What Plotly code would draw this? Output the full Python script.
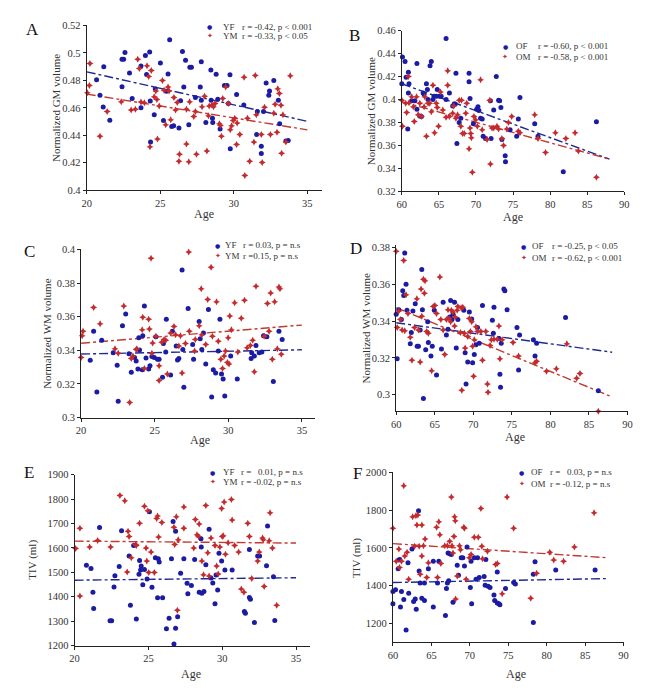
import plotly.graph_objects as go

# ---------------- DATA ----------------
# Panel A: Normalized GM volume, young
A_YF_age = [20.67, 21.16, 20.9, 21.12, 21.57, 22.4, 22.4, 22.51, 22.6, 22.91, 23.09, 23.69, 23.69, 23.99, 24.07, 24.28, 24.32, 24.34, 24.59, 24.66, 25.01, 25.22, 25.42, 25.53, 25.64, 25.78, 25.91, 26.27, 26.38, 26.51, 26.6, 26.72, 26.94, 27.01, 27.12, 27.39, 27.72, 27.79, 27.79, 28.1, 28.44, 28.46, 28.55, 28.57, 28.8, 28.91, 29.07, 29.36, 29.54, 29.74, 29.76, 29.63, 30.19, 30.68, 31.55, 31.6, 31.87, 31.87, 32.02, 32.2, 32.38, 32.43, 32.72, 33.03, 33.12, 33.54, 33.7]
A_YF_val = [0.4804, 0.4899, 0.4692, 0.4606, 0.451, 0.4754, 0.4954, 0.4954, 0.5002, 0.4854, 0.4668, 0.4904, 0.4601, 0.498, 0.4842, 0.5007, 0.4649, 0.4351, 0.4549, 0.4739, 0.4926, 0.4508, 0.472, 0.4847, 0.5095, 0.4465, 0.447, 0.4453, 0.4651, 0.5009, 0.4751, 0.4947, 0.4477, 0.4895, 0.4895, 0.4675, 0.4751, 0.4935, 0.4656, 0.4494, 0.4876, 0.4656, 0.4525, 0.4494, 0.4845, 0.4663, 0.4446, 0.4763, 0.4763, 0.484, 0.4303, 0.4632, 0.4697, 0.462, 0.4406, 0.4573, 0.432, 0.4267, 0.4573, 0.478, 0.4692, 0.4723, 0.4799, 0.4656, 0.4484, 0.4358, 0.4363]
A_YM_age = [20.04, 20.18, 20.22, 20.9, 21.39, 22.35, 23.02, 23.31, 23.47, 23.58, 23.69, 23.92, 24.1, 24.21, 24.3, 24.39, 24.59, 24.7, 24.81, 24.77, 24.93, 25.15, 25.26, 25.37, 25.53, 25.6, 25.71, 25.93, 26.04, 26.16, 26.27, 26.31, 26.78, 26.78, 26.94, 27.0, 27.28, 27.39, 27.46, 27.84, 28.01, 28.17, 28.28, 28.33, 28.51, 28.62, 28.73, 29.02, 29.09, 29.16, 29.25, 29.45, 29.63, 29.76, 29.85, 29.96, 30.07, 30.19, 30.23, 30.41, 30.7, 30.75, 30.93, 31.08, 31.37, 31.46, 31.53, 31.87, 31.93, 32.09, 32.49, 32.72, 32.81, 32.94, 32.99, 33.1, 33.21, 33.25, 33.34, 33.54, 33.84]
A_YM_val = [0.4709, 0.4763, 0.4923, 0.4394, 0.4573, 0.4644, 0.4584, 0.4589, 0.4954, 0.4887, 0.4642, 0.4637, 0.4907, 0.4828, 0.4317, 0.4871, 0.468, 0.4723, 0.4374, 0.4661, 0.4613, 0.4799, 0.4728, 0.4477, 0.4751, 0.4723, 0.4513, 0.4675, 0.4584, 0.4639, 0.4212, 0.4262, 0.4336, 0.4589, 0.4208, 0.4644, 0.4537, 0.4573, 0.4262, 0.4608, 0.4685, 0.4286, 0.4542, 0.4613, 0.462, 0.4608, 0.4632, 0.4484, 0.4472, 0.4394, 0.4668, 0.4751, 0.4632, 0.4441, 0.447, 0.4508, 0.4525, 0.4334, 0.4489, 0.4406, 0.4823, 0.4107, 0.4525, 0.4212, 0.4351, 0.4835, 0.4549, 0.4406, 0.4203, 0.4604, 0.4406, 0.4561, 0.4627, 0.4422, 0.4739, 0.4704, 0.4618, 0.427, 0.4549, 0.4351, 0.4833]
A_fit_age = [20, 35]
A_YF_fit = [0.4862, 0.4502]
A_YM_fit = [0.4700, 0.4440]

# Panel B: Normalized GM volume, old
B_OF_age = [60.0, 60.09, 60.44, 60.58, 60.8, 60.89, 60.89, 60.97, 61.33, 61.77, 62.04, 62.04, 62.43, 62.65, 62.88, 63.01, 63.32, 63.45, 63.54, 63.81, 63.98, 64.2, 64.34, 64.65, 64.78, 65.09, 65.31, 65.97, 65.97, 66.42, 66.86, 67.08, 67.21, 67.3, 67.43, 67.74, 67.96, 69.07, 69.07, 69.2, 69.65, 70.09, 70.27, 70.4, 70.62, 70.84, 70.97, 71.28, 71.95, 72.04, 72.39, 72.74, 73.05, 73.19, 73.36, 73.5, 73.94, 73.98, 74.6, 75.49, 75.71, 75.93, 77.92, 78.36, 81.77, 86.24]
B_OF_val = [0.4137, 0.4371, 0.4331, 0.4194, 0.3743, 0.4237, 0.4057, 0.4137, 0.3989, 0.3989, 0.4314, 0.3914, 0.3857, 0.3851, 0.4057, 0.4046, 0.4137, 0.4086, 0.40, 0.4294, 0.4331, 0.40, 0.4029, 0.4029, 0.4086, 0.4029, 0.4029, 0.4531, 0.40, 0.4057, 0.3943, 0.396, 0.396, 0.4229, 0.3617, 0.38, 0.3837, 0.4229, 0.4154, 0.4009, 0.3789, 0.3914, 0.3937, 0.3903, 0.3837, 0.3829, 0.368, 0.366, 0.3989, 0.366, 0.3909, 0.42, 0.3994, 0.3989, 0.3931, 0.3651, 0.3509, 0.3457, 0.3737, 0.368, 0.3829, 0.4017, 0.3789, 0.368, 0.3371, 0.3806]
B_OM_age = [60.0, 60.09, 60.53, 60.66, 60.89, 60.97, 61.33, 61.55, 61.68, 61.99, 62.21, 62.43, 62.65, 63.01, 63.1, 63.32, 63.54, 63.76, 63.98, 64.2, 64.42, 64.65, 64.78, 64.96, 65.22, 65.53, 65.97, 66.19, 66.19, 66.42, 66.86, 66.99, 67.3, 67.52, 67.74, 67.96, 68.05, 68.19, 68.41, 68.63, 68.76, 69.07, 69.2, 69.29, 69.38, 69.51, 69.73, 69.96, 70.18, 70.62, 70.84, 71.5, 71.86, 71.95, 72.17, 72.39, 72.83, 73.05, 73.5, 73.72, 74.16, 74.38, 74.82, 75.71, 75.93, 77.92, 78.36, 79.38, 80.71, 82.12, 83.36, 83.81, 86.24]
B_OM_val = [0.3994, 0.3766, 0.3966, 0.3886, 0.42, 0.3971, 0.4023, 0.3937, 0.3809, 0.4023, 0.3866, 0.3966, 0.3851, 0.3937, 0.4023, 0.368, 0.3966, 0.3966, 0.3894, 0.4123, 0.3709, 0.3966, 0.3931, 0.3766, 0.4066, 0.3909, 0.3846, 0.4251, 0.4123, 0.3851, 0.388, 0.3943, 0.3837, 0.3866, 0.3994, 0.3766, 0.3994, 0.3703, 0.3703, 0.388, 0.3966, 0.3571, 0.3751, 0.3703, 0.3666, 0.3366, 0.3851, 0.3823, 0.3766, 0.4171, 0.3737, 0.3651, 0.3994, 0.3437, 0.3751, 0.3751, 0.3766, 0.3743, 0.366, 0.36, 0.3743, 0.38, 0.3851, 0.3723, 0.3709, 0.3866, 0.366, 0.3537, 0.3709, 0.366, 0.3709, 0.3551, 0.3323]
B_fit_age = [60, 88]
B_OF_fit = [0.4137, 0.3480]
B_OM_fit = [0.3980, 0.3480]

# Panel C: Normalized WM volume, young
C_YF_age = [20.62, 20.85, 21.07, 21.4, 22.18, 22.45, 22.52, 22.81, 23.03, 23.25, 23.41, 23.63, 23.74, 23.86, 23.97, 23.92, 24.15, 24.19, 24.3, 24.41, 24.59, 24.68, 24.81, 24.97, 25.08, 25.19, 25.3, 25.53, 25.59, 25.75, 25.79, 26.08, 26.2, 26.46, 26.55, 26.64, 26.86, 26.91, 26.98, 27.27, 27.58, 27.64, 28.02, 28.09, 28.2, 28.31, 28.47, 28.65, 28.87, 28.98, 29.14, 29.32, 29.43, 29.54, 29.65, 29.76, 30.16, 30.61, 31.55, 31.59, 31.77, 31.88, 32.1, 32.28, 32.39, 32.62, 33.06, 33.44, 33.66]
C_YF_val = [0.3341, 0.3513, 0.3152, 0.346, 0.3386, 0.3312, 0.3097, 0.3546, 0.3616, 0.338, 0.3269, 0.3357, 0.3337, 0.3289, 0.3402, 0.3474, 0.3285, 0.3487, 0.3663, 0.3355, 0.3289, 0.3308, 0.3363, 0.3357, 0.348, 0.3347, 0.3347, 0.324, 0.3441, 0.339, 0.3585, 0.3253, 0.3513, 0.3425, 0.3343, 0.3351, 0.3877, 0.3405, 0.3181, 0.3649, 0.3435, 0.3347, 0.3571, 0.3468, 0.3405, 0.3503, 0.3318, 0.3643, 0.3123, 0.3285, 0.3265, 0.3396, 0.3585, 0.3259, 0.323, 0.3129, 0.3366, 0.323, 0.3351, 0.3386, 0.3366, 0.3429, 0.3386, 0.339, 0.3487, 0.348, 0.3214, 0.3513, 0.3464]
C_YM_age = [20.0, 20.07, 20.13, 20.85, 21.29, 22.3, 22.52, 22.9, 23.3, 23.41, 23.52, 23.74, 23.79, 24.15, 24.19, 24.3, 24.59, 24.64, 24.75, 24.81, 24.86, 25.08, 25.3, 25.3, 25.48, 25.64, 25.75, 25.86, 26.08, 26.31, 26.42, 26.64, 26.75, 26.86, 27.09, 27.31, 27.35, 27.71, 27.76, 28.02, 28.16, 28.2, 28.47, 28.6, 28.83, 28.92, 29.2, 29.32, 29.49, 29.61, 29.72, 29.81, 29.94, 29.99, 30.05, 30.1, 30.21, 30.43, 30.65, 30.88, 31.1, 31.28, 31.5, 31.66, 31.77, 31.88, 32.44, 32.66, 32.77, 32.88, 32.99, 33.15, 33.33, 33.44, 33.51, 33.6]
C_YM_val = [0.3357, 0.3487, 0.3513, 0.3655, 0.3558, 0.3409, 0.3382, 0.3663, 0.309, 0.3351, 0.3366, 0.3405, 0.3409, 0.3522, 0.3596, 0.3292, 0.3585, 0.3526, 0.3947, 0.3382, 0.3444, 0.3483, 0.322, 0.3308, 0.3448, 0.3464, 0.346, 0.3259, 0.3503, 0.3542, 0.3493, 0.3425, 0.3487, 0.3265, 0.3441, 0.3984, 0.3513, 0.3396, 0.3464, 0.3546, 0.3766, 0.3493, 0.3435, 0.3702, 0.3893, 0.3483, 0.3688, 0.3454, 0.3347, 0.3292, 0.3366, 0.3396, 0.3327, 0.3474, 0.3318, 0.3604, 0.3522, 0.3682, 0.339, 0.3591, 0.3698, 0.3415, 0.3429, 0.346, 0.3273, 0.378, 0.3483, 0.3678, 0.3513, 0.3741, 0.3347, 0.3688, 0.3409, 0.3776, 0.3766, 0.3376]
C_fit_age = [20, 35]
C_YF_fit = [0.3378, 0.3403]
C_YM_fit = [0.3442, 0.3550]

# Panel D: Normalized WM volume, old
D_OF_age = [60.0, 60.13, 60.34, 60.68, 60.85, 60.98, 61.11, 61.28, 61.4, 61.83, 61.96, 62.17, 62.47, 62.72, 62.89, 63.11, 63.32, 63.4, 63.53, 63.83, 64.09, 64.17, 64.51, 64.68, 64.94, 65.23, 65.87, 66.09, 66.51, 66.72, 66.94, 67.06, 67.23, 67.36, 67.57, 67.79, 68.0, 68.77, 68.94, 69.06, 69.28, 69.49, 69.79, 69.91, 70.13, 70.34, 70.55, 70.77, 71.19, 72.47, 72.6, 72.68, 73.32, 73.45, 73.53, 73.62, 73.96, 74.09, 74.38, 75.66, 75.87, 76.0, 77.79, 78.0, 78.21, 81.96, 86.21]
D_OF_val = [0.3437, 0.3196, 0.3462, 0.3409, 0.3565, 0.3539, 0.377, 0.3601, 0.3459, 0.3277, 0.3338, 0.3455, 0.3494, 0.3263, 0.3263, 0.3352, 0.3681, 0.3462, 0.2979, 0.3245, 0.3396, 0.3284, 0.321, 0.3263, 0.3459, 0.3107, 0.3249, 0.3503, 0.3325, 0.3356, 0.3423, 0.3512, 0.3409, 0.3437, 0.3503, 0.3254, 0.3409, 0.3459, 0.3228, 0.3059, 0.3178, 0.345, 0.3411, 0.3174, 0.3219, 0.3272, 0.3366, 0.328, 0.3485, 0.3405, 0.3334, 0.3476, 0.3306, 0.3112, 0.3041, 0.328, 0.3574, 0.3565, 0.3462, 0.3366, 0.3135, 0.3325, 0.3299, 0.321, 0.328, 0.342, 0.3022]
D_OM_age = [60.0, 60.13, 60.34, 60.55, 60.77, 60.98, 61.11, 61.28, 61.53, 61.83, 62.04, 62.38, 62.68, 62.89, 63.11, 63.23, 63.32, 63.53, 63.66, 63.74, 63.96, 64.17, 64.6, 64.81, 65.02, 65.23, 65.66, 65.79, 66.09, 66.3, 66.51, 66.72, 66.85, 67.06, 67.15, 67.36, 67.57, 67.66, 67.91, 68.0, 68.34, 68.43, 68.51, 68.64, 68.85, 68.94, 69.28, 69.49, 69.62, 69.79, 69.91, 70.04, 70.13, 70.34, 70.55, 70.98, 71.19, 71.62, 71.83, 71.91, 72.17, 72.34, 72.68, 73.11, 73.32, 73.45, 73.74, 75.15, 75.87, 78.0, 78.21, 79.49, 80.77, 82.13, 83.4, 83.83, 86.21]
D_OM_val = [0.378, 0.3366, 0.3455, 0.3409, 0.3352, 0.3729, 0.3348, 0.3544, 0.3441, 0.3313, 0.3188, 0.3366, 0.3521, 0.3352, 0.3178, 0.3574, 0.3427, 0.3628, 0.3551, 0.3619, 0.3343, 0.3334, 0.313, 0.348, 0.3485, 0.3441, 0.364, 0.3409, 0.3352, 0.3219, 0.3409, 0.3462, 0.3414, 0.3396, 0.3459, 0.345, 0.3373, 0.3423, 0.3459, 0.348, 0.3338, 0.3473, 0.3024, 0.3476, 0.3334, 0.3254, 0.3316, 0.3414, 0.3343, 0.3396, 0.3263, 0.31, 0.3299, 0.337, 0.3343, 0.3343, 0.3188, 0.3343, 0.3059, 0.3013, 0.3267, 0.3299, 0.3302, 0.3302, 0.3373, 0.3196, 0.3299, 0.3284, 0.321, 0.3174, 0.3182, 0.3128, 0.3141, 0.3277, 0.3089, 0.3116, 0.2911]
D_fit_age = [60, 88]
D_OF_fit = [0.3391, 0.3231]
D_OM_fit = [0.3473, 0.2988]

# Panel E: TIV, young
E_YF_age = [20.8, 21.11, 21.24, 21.29, 21.69, 22.4, 22.51, 22.67, 22.73, 23.02, 23.18, 23.69, 23.78, 24.0, 24.18, 24.36, 24.4, 24.47, 24.51, 24.62, 24.73, 24.91, 25.07, 25.24, 25.47, 25.62, 25.67, 25.73, 25.96, 26.22, 26.4, 26.56, 26.67, 26.73, 26.84, 26.84, 26.98, 27.18, 27.4, 27.62, 27.67, 27.91, 28.13, 28.44, 28.56, 28.58, 28.62, 28.76, 28.89, 29.11, 29.24, 29.36, 29.51, 29.58, 29.69, 29.78, 29.96, 30.18, 30.67, 31.5, 31.57, 31.84, 31.91, 31.84, 32.18, 32.4, 32.53, 33.0, 33.07, 33.47, 33.56]
E_YF_val = [1529, 1516, 1419, 1352, 1684, 1302, 1302, 1440, 1486, 1524, 1670, 1567, 1365, 1610, 1309, 1492, 1549, 1510, 1526, 1449, 1512, 1473, 1748, 1439, 1560, 1396, 1556, 1543, 1396, 1269, 1312, 1556, 1708, 1207, 1668, 1271, 1318, 1496, 1556, 1455, 1412, 1446, 1553, 1419, 1638, 1604, 1415, 1422, 1531, 1677, 1477, 1457, 1372, 1489, 1428, 1578, 1547, 1510, 1510, 1340, 1333, 1397, 1390, 1594, 1295, 1567, 1567, 1527, 1690, 1482, 1303]
E_YM_age = [20.07, 20.36, 20.36, 21.02, 21.56, 22.44, 23.07, 23.4, 23.56, 23.62, 23.69, 23.84, 24.13, 24.18, 24.4, 24.73, 24.84, 24.89, 24.96, 25.02, 25.18, 25.4, 25.56, 25.62, 25.69, 25.91, 26.73, 26.78, 26.89, 26.96, 27.02, 27.4, 27.4, 28.07, 28.18, 28.29, 28.4, 28.44, 28.62, 28.73, 28.89, 29.02, 29.11, 29.24, 29.51, 29.62, 29.73, 29.84, 29.96, 30.0, 30.07, 30.13, 30.22, 30.4, 30.62, 30.67, 30.84, 31.11, 31.29, 31.47, 31.73, 31.84, 32.0, 32.4, 32.51, 32.73, 32.78, 32.84, 33.18, 33.24, 33.4, 33.69]
E_YM_val = [1598, 1681, 1403, 1604, 1631, 1604, 1815, 1793, 1502, 1668, 1647, 1560, 1614, 1610, 1701, 1771, 1600, 1547, 1752, 1500, 1583, 1500, 1721, 1731, 1645, 1704, 1685, 1614, 1728, 1345, 1634, 1768, 1681, 1600, 1717, 1654, 1647, 1698, 1547, 1490, 1774, 1580, 1485, 1641, 1610, 1526, 1493, 1604, 1762, 1647, 1650, 1788, 1574, 1621, 1798, 1715, 1610, 1583, 1432, 1419, 1701, 1647, 1475, 1547, 1583, 1641, 1634, 1442, 1630, 1744, 1600, 1365]
E_fit_age = [20, 35]
E_YF_fit = [1468, 1478]
E_YM_fit = [1628, 1620]

# Panel F: TIV, old
F_OF_age = [60.0, 60.0, 60.34, 60.68, 60.77, 60.9, 60.98, 61.11, 61.41, 61.71, 61.96, 62.05, 62.48, 62.69, 62.9, 63.03, 63.33, 63.41, 63.54, 63.76, 64.1, 64.1, 64.61, 65.25, 65.25, 65.8, 65.97, 66.83, 66.96, 67.08, 67.17, 67.25, 67.38, 67.59, 67.81, 68.36, 68.53, 68.88, 69.09, 69.3, 69.64, 70.07, 70.16, 70.24, 70.58, 70.8, 71.01, 71.22, 71.86, 71.99, 72.08, 72.38, 72.63, 73.14, 73.23, 73.57, 73.57, 73.78, 73.91, 74.64, 75.7, 75.92, 78.26, 78.26, 78.48, 81.17, 86.29]
F_OF_val = [1369, 1304, 1379, 1490, 1536, 1539, 1287, 1369, 1327, 1165, 1522, 1360, 1595, 1317, 1330, 1275, 1797, 1478, 1414, 1334, 1322, 1414, 1490, 1530, 1287, 1414, 1530, 1243, 1386, 1414, 1574, 1426, 1570, 1565, 1313, 1508, 1456, 1548, 1548, 1504, 1605, 1391, 1530, 1304, 1548, 1435, 1548, 1443, 1449, 1403, 1539, 1397, 1391, 1351, 1322, 1473, 1308, 1304, 1299, 1386, 1417, 1409, 1461, 1205, 1527, 1483, 1483]
F_OM_age = [60.0, 60.43, 60.77, 60.85, 61.11, 61.41, 61.54, 61.84, 62.05, 62.56, 62.82, 62.99, 63.12, 63.24, 63.41, 63.54, 63.76, 63.76, 63.97, 64.18, 64.4, 64.61, 65.68, 65.8, 65.97, 66.1, 66.23, 66.74, 67.08, 67.38, 67.6, 67.68, 67.81, 67.94, 68.02, 68.11, 68.15, 68.36, 68.66, 68.79, 69.22, 69.3, 69.52, 69.94, 70.16, 70.58, 71.1, 71.44, 71.56, 71.65, 72.29, 73.36, 73.57, 74.21, 74.85, 75.7, 77.92, 78.69, 80.4, 80.91, 82.19, 83.6, 86.16]
F_OM_val = [1704, 1530, 1595, 1496, 1530, 1930, 1557, 1577, 1435, 1765, 1609, 1770, 1722, 1774, 1609, 1461, 1557, 1722, 1612, 1647, 1443, 1522, 1710, 1443, 1739, 1670, 1518, 1612, 1612, 1635, 1870, 1612, 1574, 1661, 1765, 1744, 1330, 1452, 1612, 1591, 1710, 1704, 1435, 1548, 1565, 1657, 1657, 1809, 1609, 1543, 1583, 1513, 1518, 1357, 1870, 1704, 1334, 1466, 1577, 1536, 1530, 1605, 1786]
F_fit_age = [60, 88]
F_OF_fit = [1417, 1438]
F_OM_fit = [1623, 1548]

# tick values
ticks_young_x = [20, 25, 30, 35]
ticks_old_x = [60, 65, 70, 75, 80, 85, 90]
ticks_A_y = [0.4, 0.42, 0.44, 0.46, 0.48, 0.5, 0.52]
ticks_B_y = [0.32, 0.34, 0.36, 0.38, 0.4, 0.42, 0.44, 0.46]
ticks_C_y = [0.3, 0.32, 0.34, 0.36, 0.38, 0.4]
ticks_D_y = [0.3, 0.32, 0.34, 0.36, 0.38]
ticks_E_y = [1200, 1300, 1400, 1500, 1600, 1700, 1800, 1900]
ticks_F_y = [1200, 1400, 1600, 1800, 2000]

# legend labels
legend_labels = {
    "A": [("YF", "r = -0.42, p &lt; 0.001"), ("YM", "r = -0.33, p &lt; 0.05")],
    "B": [("OF", "r = -0.60, p &lt; 0.001"), ("OM", "r = -0.58, p &lt; 0.001")],
    "C": [("YF", "r = 0.03, p = n.s"), ("YM", "r =0.15, p = n.s")],
    "D": [("OF", "r = -0.25, p &lt; 0.05"), ("OM", "r = -0.62, p &lt; 0.001")],
    "E": [("YF", "r =\u00a0\u00a0 0.01, p = n.s"), ("YM", "r = -0.02, p = n.s")],
    "F": [("OF", "r =\u00a0\u00a0 0.03, p = n.s"), ("OM", "r = -0.12, p = n.s")],
}

# ---------------- STYLE / LAYOUT ----------------
W, H = 649, 691
FONT = "Liberation Serif, Times New Roman, serif"
BLUE = "#1b1ba3"
RED = "#c42b2e"
BLUE_LINE = "#1e2a8e"
RED_LINE = "#c23a30"

def fx(px):
    return px / W

def fy(py):
    return 1 - py / H

panels = {
    "A": dict(xd=(83, 322), yd=(20.7, 188.3), xr=[20, 36], yr=[0.4, 0.52], xt=ticks_young_x, yt=ticks_A_y,
              ytitle="Normalized GM volume", ytx=52, xtitle_xy=(202, 212), letter=(28, 25),
              leg=dict(mx=208, rows=(22, 32), lx=219, rx=239)),
    "B": dict(xd=(403, 629), yd=(26, 189.3), xr=[60, 90], yr=[0.32, 0.46], xt=ticks_old_x, yt=ticks_B_y,
              ytitle="Normalized GM volume", ytx=372, xtitle_xy=(516, 215), letter=(355, 31),
              leg=dict(mx=508, rows=(42, 53), lx=517, rx=539)),
    "C": dict(xd=(77.3, 315), yd=(248.3, 419.3), xr=[20, 35.9], yr=[0.3, 0.4], xt=ticks_young_x, yt=ticks_C_y,
              ytitle="Normalized WM volume", ytx=43, xtitle_xy=(198, 442), letter=(25, 250),
              leg=dict(mx=216, rows=(244, 255), lx=221, rx=240)),
    "D": dict(xd=(397.3, 632.3), yd=(244, 412.7), xr=[60, 90], yr=[0.2911, 0.3813], xt=ticks_old_x, yt=ticks_D_y,
              ytitle="Normalized WM volume", ytx=367, xtitle_xy=(518, 439), letter=(356, 247),
              leg=dict(mx=527, rows=(245, 257), lx=533, rx=554)),
    "E": dict(xd=(70.7, 310), yd=(477.3, 651), xr=[20, 35.96], yr=[1200, 1900], xt=ticks_young_x, yt=ticks_E_y,
              ytitle="TIV (ml)", ytx=28, xtitle_xy=(189, 680), letter=(24, 475),
              leg=dict(mx=211, rows=(475, 485), lx=219, rx=238)),
    "F": dict(xd=(394, 628.3), yd=(475, 647.7), xr=[60, 90], yr=[1100, 2000], xt=ticks_old_x, yt=ticks_F_y,
              ytitle="TIV (ml)", ytx=357, xtitle_xy=(519, 680), letter=(358, 476),
              leg=dict(mx=525, rows=(475, 487), lx=532, rx=551)),
}

series = {
    "A": [(A_YF_age, A_YF_val, A_fit_age, A_YF_fit), (A_YM_age, A_YM_val, A_fit_age, A_YM_fit)],
    "B": [(B_OF_age, B_OF_val, B_fit_age, B_OF_fit), (B_OM_age, B_OM_val, B_fit_age, B_OM_fit)],
    "C": [(C_YF_age, C_YF_val, C_fit_age, C_YF_fit), (C_YM_age, C_YM_val, C_fit_age, C_YM_fit)],
    "D": [(D_OF_age, D_OF_val, D_fit_age, D_OF_fit), (D_OM_age, D_OM_val, D_fit_age, D_OM_fit)],
    "E": [(E_YF_age, E_YF_val, E_fit_age, E_YF_fit), (E_YM_age, E_YM_val, E_fit_age, E_YM_fit)],
    "F": [(F_OF_age, F_OF_val, F_fit_age, F_OF_fit), (F_OM_age, F_OM_val, F_fit_age, F_OM_fit)],
}

fig = go.Figure()
layout = dict(width=W, height=H, autosize=False, margin=dict(l=0, r=0, t=0, b=0, pad=0),
              paper_bgcolor="white", plot_bgcolor="white", showlegend=False,
              font=dict(family=FONT, color="#333333"))
annotations = []

axis_common = dict(showline=True, linecolor="#222222", linewidth=1, ticks="outside", ticklen=3,
                   tickcolor="#222222", showgrid=False, zeroline=False,
                   tickfont=dict(family=FONT, size=10.5, color="#333333"))

for i, key in enumerate(["A", "B", "C", "D", "E", "F"]):
    p = panels[key]
    n = "" if i == 0 else str(i + 1)
    xa, ya = "x" + n, "y" + n
    layout["xaxis" + n] = dict(axis_common, domain=[fx(p["xd"][0]), fx(p["xd"][1])], range=p["xr"],
                               tickvals=p["xt"], anchor=ya)
    layout["yaxis" + n] = dict(axis_common, domain=[fy(p["yd"][1]), fy(p["yd"][0])], range=p["yr"],
                               tickvals=p["yt"], anchor=xa)
    (ax1, av1, fx1, fv1), (ax2, av2, fx2, fv2) = series[key]
    fig.add_trace(go.Scatter(x=fx1, y=fv1, mode="lines", xaxis=xa, yaxis=ya, cliponaxis=False,
                             line=dict(color=BLUE_LINE, width=1.4, dash="dashdot"), hoverinfo="skip"))
    fig.add_trace(go.Scatter(x=fx2, y=fv2, mode="lines", xaxis=xa, yaxis=ya, cliponaxis=False,
                             line=dict(color=RED_LINE, width=1.4, dash="dashdot"), hoverinfo="skip"))
    fig.add_trace(go.Scatter(x=ax1, y=av1, mode="markers", xaxis=xa, yaxis=ya, cliponaxis=False,
                             marker=dict(symbol="circle", size=5, color=BLUE)))
    fig.add_trace(go.Scatter(x=ax2, y=av2, mode="markers", xaxis=xa, yaxis=ya, cliponaxis=False,
                             marker=dict(symbol="star-diamond", size=5, color=RED)))

    lx, ly = p["letter"]
    annotations.append(dict(text=key, x=fx(lx), y=fy(ly), xref="paper", yref="paper", showarrow=False,
                            xanchor="center", yanchor="middle", font=dict(family=FONT, size=17, color="#111111")))
    annotations.append(dict(text=p["ytitle"], x=fx(p["ytx"]), y=fy((p["yd"][0] + p["yd"][1]) / 2),
                            xref="paper", yref="paper", showarrow=False, textangle=-90,
                            xanchor="center", yanchor="middle", font=dict(family=FONT, size=11, color="#333333")))
    tx, ty = p["xtitle_xy"]
    annotations.append(dict(text="Age", x=fx(tx), y=fy(ty), xref="paper", yref="paper", showarrow=False,
                            xanchor="center", yanchor="middle", font=dict(family=FONT, size=12, color="#333333")))
    lg = p["leg"]
    for (lab, stat), row, col, sym in zip(legend_labels[key], lg["rows"], [BLUE, RED], ["\u25cf", "\u2726"]):
        annotations.append(dict(text=sym, x=fx(lg["mx"]), y=fy(row), xref="paper", yref="paper", showarrow=False,
                                xanchor="center", yanchor="middle",
                                font=dict(family="DejaVu Sans", size=6 if sym == "\u25cf" else 7, color=col)))
        annotations.append(dict(text=lab, x=fx(lg["lx"]), y=fy(row), xref="paper", yref="paper", showarrow=False,
                                xanchor="left", yanchor="middle", font=dict(family=FONT, size=9, color="#333333")))
        annotations.append(dict(text=stat, x=fx(lg["rx"]), y=fy(row), xref="paper", yref="paper", showarrow=False,
                                xanchor="left", yanchor="middle", font=dict(family=FONT, size=9, color="#333333")))

layout["annotations"] = annotations
fig.update_layout(**layout)
fig.write_html("out.html", config={"displayModeBar": False},
               post_script="document.body.style.margin='0px';document.body.style.padding='0px';"
                           "document.body.style.overflow='hidden';")
